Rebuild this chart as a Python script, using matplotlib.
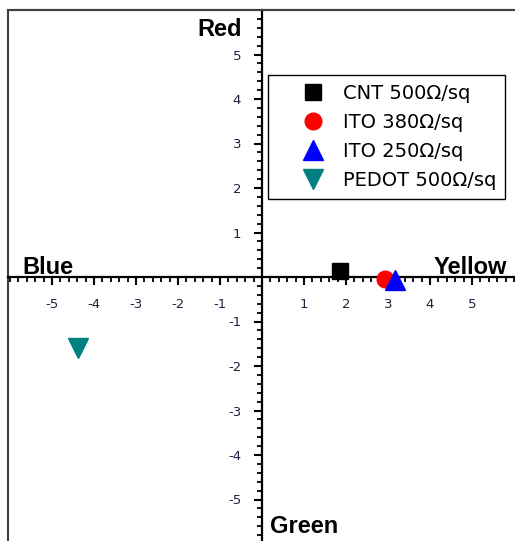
import matplotlib
matplotlib.use("Agg")
import matplotlib.pyplot as plt
from matplotlib.patches import Rectangle
from matplotlib.ticker import MultipleLocator, FixedLocator

plt.rcParams["axes.unicode_minus"] = False

labels = ["CNT 500Ω/sq", "ITO 380Ω/sq", "ITO 250Ω/sq", "PEDOT 500Ω/sq"]
x_vals = [1.86, 2.93, 3.17, -4.38]
y_vals = [0.13, -0.05, -0.07, -1.60]
colors = ["#000000", "#ff0000", "#0000ff", "#008080"]
markers = ["s", "o", "^", "v"]
msizes = [12, 12, 15, 15]
ticks = [-5, -4, -3, -2, -1, 1, 2, 3, 4, 5]

W, H = 515, 541
fig = plt.figure(figsize=(W / 100, H / 100), dpi=100)
pxx, pxy = 42.0, 44.5
x0p, y0p = 262, 277
xl = (-6.05, 6.05)
yl = (-6.0, 6.0)
left = (x0p + xl[0] * pxx) / W
width = (xl[1] - xl[0]) * pxx / W
top = (y0p - yl[1] * pxy)
bottom = H - (y0p - yl[0] * pxy)
ax = fig.add_axes([left, bottom / H, width, (yl[1] - yl[0]) * pxy / H])
ax.set_xlim(*xl)
ax.set_ylim(*yl)

fam = ["DejaVu Sans"]

ax.spines["left"].set_position(("data", 0))
ax.spines["bottom"].set_position(("data", 0))
for s in ["left", "bottom"]:
    ax.spines[s].set_linewidth(1.6)
    ax.spines[s].set_color("black")
for s in ["top", "right"]:
    ax.spines[s].set_linewidth(1.5)
    ax.spines[s].set_color("#404040")
ax.add_patch(Rectangle((0, 0), 1, 1, transform=ax.transAxes, fill=False,
                       edgecolor="#404040", lw=1.5, clip_on=False, zorder=0))

ax.xaxis.set_major_locator(FixedLocator(ticks))
ax.yaxis.set_major_locator(FixedLocator(ticks))
ax.xaxis.set_minor_locator(MultipleLocator(0.2))
ax.yaxis.set_minor_locator(MultipleLocator(0.2))
ax.tick_params(which="major", direction="out", length=6, width=1.5, labelsize=9.5, pad=9)
ax.tick_params(which="minor", direction="out", length=3.5, width=1.3)
ax.tick_params(axis="x", which="major", pad=9)
for lab in ax.get_xticklabels() + ax.get_yticklabels():
    lab.set_family(fam)
    lab.set_color("#202040")

handles = []
for lb, xv, yv, c, m, ms in zip(labels, x_vals, y_vals, colors, markers, msizes):
    h, = ax.plot([xv], [yv], linestyle="none", marker=m, color=c, markersize=ms,
                 label=lb, zorder=5, clip_on=False)
    handles.append(h)

leg = ax.legend(handles=handles, loc="upper left",
                bbox_to_anchor=((268 - left * W) / (width * W), 1 - (75 - top) / ((yl[1] - yl[0]) * pxy)),
                frameon=True, fancybox=False, edgecolor="black", framealpha=1,
                prop={"family": fam, "size": 14}, handlelength=3.73, handletextpad=-0.31,
                labelspacing=0.52, borderpad=0.45, borderaxespad=0)
leg.get_frame().set_linewidth(1.0)

bold = dict(family=["Liberation Sans", "DejaVu Sans"], fontweight="bold", fontsize=17)
ax.text(-0.48, 5.57, "Red", ha="right", va="center", **bold)
ax.text(-5.71, 0.07, "Blue", ha="left", va="baseline", **bold)
ax.text(5.83, 0.07, "Yellow", ha="right", va="baseline", **bold)
ax.text(0.19, -5.6, "Green", ha="left", va="center", **bold)

fig.savefig("out.png", dpi=100)
